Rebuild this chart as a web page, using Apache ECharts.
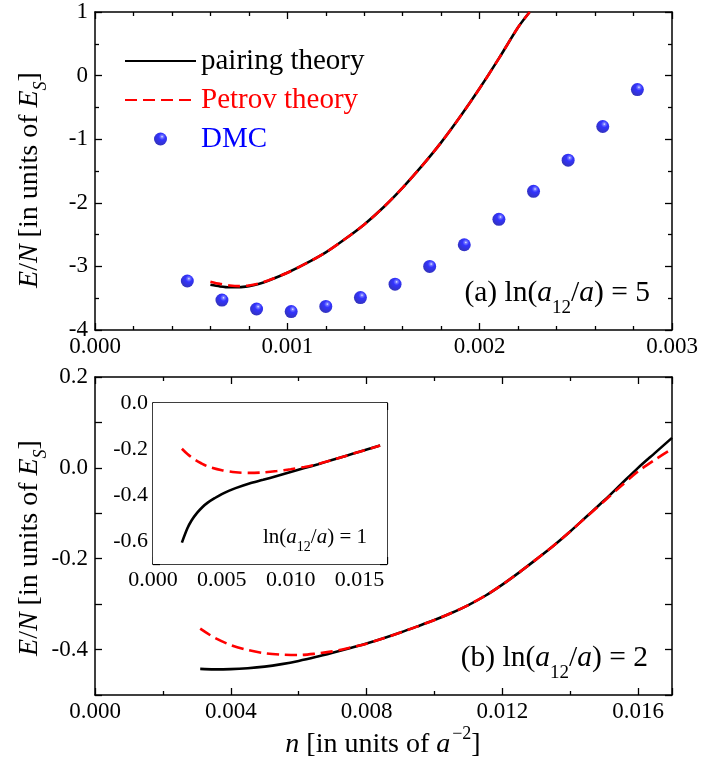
<!DOCTYPE html>
<html>
<head>
<meta charset="utf-8">
<script src="https://cdn.jsdelivr.net/npm/echarts@6/dist/echarts.min.js"></script>
<style>
  html, body { margin: 0; padding: 0; background: #fff; }
  #chart { width: 721px; height: 771px; }
</style>
</head>
<body>
<div id="chart"></div>
<script>
// ---- Panel (a): ln(a12/a) = 5 ----
const nA        = [0.00060, 0.00065, 0.00070, 0.00075, 0.00080, 0.00085, 0.00090, 0.00100, 0.00110, 0.00120, 0.00130, 0.00140, 0.00150, 0.00160, 0.00170, 0.00180, 0.00190, 0.00200, 0.00210, 0.00220, 0.00226];
const pairingA  = [-3.29, -3.315, -3.328, -3.328, -3.31, -3.275, -3.225, -3.10, -2.95, -2.78, -2.57, -2.34, -2.07, -1.76, -1.42, -1.05, -0.64, -0.20, 0.27, 0.76, 1.00];
const petrovA   = [-3.24, -3.275, -3.30, -3.31, -3.30, -3.27, -3.222, -3.10, -2.95, -2.78, -2.57, -2.34, -2.07, -1.76, -1.42, -1.05, -0.64, -0.20, 0.27, 0.76, 1.00];
const nDMC      = [0.00048, 0.00066, 0.00084, 0.00102, 0.00120, 0.00138, 0.00156, 0.00174, 0.00192, 0.00210, 0.00228, 0.00246, 0.00264, 0.00282];
const eDMC      = [-3.23, -3.53, -3.67, -3.71, -3.63, -3.49, -3.28, -3.00, -2.66, -2.26, -1.82, -1.33, -0.80, -0.22];

// ---- Panel (b): ln(a12/a) = 2 ----
const nB        = [0.0031, 0.0035, 0.0040, 0.0045, 0.0050, 0.0055, 0.0060, 0.0065, 0.0070, 0.0075, 0.0080, 0.0085, 0.0090, 0.0095, 0.0100, 0.0105, 0.0110, 0.0115, 0.0120, 0.0125, 0.0130, 0.0135, 0.0140, 0.0145, 0.0150, 0.0155, 0.0160, 0.0165, 0.0170];
const pairingB  = [-0.4425, -0.4435, -0.4430, -0.4410, -0.4375, -0.4320, -0.4250, -0.4165, -0.4070, -0.3970, -0.3865, -0.3750, -0.3625, -0.3490, -0.3350, -0.3195, -0.3020, -0.2815, -0.2570, -0.2300, -0.2015, -0.1720, -0.1400, -0.1060, -0.0720, -0.0360, 0.0000, 0.0330, 0.0660];
const petrovB   = [-0.354, -0.373, -0.390, -0.401, -0.408, -0.411, -0.412, -0.409, -0.404, -0.396, -0.387, -0.375, -0.3625, -0.3490, -0.3350, -0.3195, -0.3020, -0.2815, -0.2570, -0.2300, -0.2015, -0.1720, -0.1400, -0.1065, -0.0735, -0.0400, -0.0080, 0.0180, 0.0420];

// ---- Inset: ln(a12/a) = 1 ----
const nC1       = [0.0021, 0.0025, 0.0028, 0.0032, 0.0036, 0.0040, 0.0045, 0.0050, 0.0055, 0.0060, 0.0070, 0.0080, 0.0090, 0.0100, 0.0110, 0.0120, 0.0130, 0.0140, 0.0150, 0.0165];
const pairingC  = [-0.607, -0.545, -0.511, -0.478, -0.452, -0.432, -0.413, -0.396, -0.382, -0.370, -0.350, -0.334, -0.317, -0.300, -0.283, -0.266, -0.248, -0.230, -0.212, -0.185];
const nC2       = [0.0021, 0.0025, 0.0030, 0.0035, 0.0040, 0.0050, 0.0060, 0.0070, 0.0080, 0.0090, 0.0100, 0.0110, 0.0120, 0.0130, 0.0140, 0.0150, 0.0165];
const petrovC   = [-0.199, -0.222, -0.245, -0.262, -0.276, -0.292, -0.301, -0.304, -0.302, -0.296, -0.288, -0.278, -0.265, -0.248, -0.230, -0.212, -0.185];

const zip = (xs, ys) => xs.map((x, i) => [x, ys[i]]);

const SERIF = '"Liberation Serif", "Times New Roman", serif';
const BLACK = '#000';
const RED = '#ff0000';
const BLUE = '#0000ff';

const isMultiple = (v, step) => Math.abs(v / step - Math.round(v / step)) < 1e-6;

function axisBase(extra) {
  return Object.assign({
    type: 'value',
    axisLine: { show: true, onZero: false, lineStyle: { color: BLACK, width: 1.5 } },
    axisTick: { show: true, inside: true, length: 7, lineStyle: { color: BLACK, width: 1.3 } },
    minorTick: { show: false },
    splitLine: { show: false },
    minorSplitLine: { show: false },
    axisLabel: { show: false }
  }, extra);
}

function labelStyle(size, margin, formatter) {
  return { show: true, color: BLACK, fontFamily: SERIF, fontSize: size, margin: margin, formatter: formatter, showMinLabel: true, showMaxLabel: true };
}

function minor(split) {
  return split ? { show: true, splitNumber: split, length: 4, lineStyle: { color: BLACK, width: 1.3 } } : { show: false };
}

// each grid gets a labelled axis plus an unlabelled mirror on the opposite side
function xPair(grid, min, max, interval, minorSplit, fmt, size, margin) {
  const common = { gridIndex: grid, min: min, max: max, interval: interval, minorTick: minor(minorSplit) };
  return [
    axisBase(Object.assign({}, common, { position: 'bottom', axisLabel: labelStyle(size, margin, fmt) })),
    axisBase(Object.assign({}, common, { position: 'top' }))
  ];
}
function yPair(grid, min, max, interval, minorSplit, fmt, size, margin) {
  const common = { gridIndex: grid, min: min, max: max, interval: interval, minorTick: minor(minorSplit) };
  return [
    axisBase(Object.assign({}, common, { position: 'left', axisLabel: labelStyle(size, margin, fmt) })),
    axisBase(Object.assign({}, common, { position: 'right' }))
  ];
}

const fmtA_x = v => v.toFixed(3);
const fmtA_y = v => String(Math.round(v));
const fmtB_x = v => isMultiple(v, 0.004) ? v.toFixed(3) : '';
const fmtB_y = v => isMultiple(v, 0.2) ? (Math.abs(v) < 1e-9 ? '0.0' : v.toFixed(1)) : '';
const fmtC_x = v => isMultiple(v, 0.005) ? v.toFixed(3) : '';
const fmtC_y = v => isMultiple(v, 0.2) ? (Math.abs(v) < 1e-9 ? '0.0' : v.toFixed(1)) : '';

const xAxes = [].concat(
  xPair(0, 0, 0.003, 0.001, 5, fmtA_x, 23, 5),
  xPair(1, 0, 0.017, 0.004, 2, fmtB_x, 23, 5),
  xPair(2, 0, 0.017, 0.005, 2, fmtC_x, 22, 5)
);
const yAxes = [].concat(
  yPair(0, -4, 1, 1, 2, fmtA_y, 23, 7),
  yPair(1, -0.5, 0.2, 0.1, 0, fmtB_y, 23, 7),
  yPair(2, -0.7, 0, 0.1, 0, fmtC_y, 22, 5)
);

const solid = { color: BLACK, width: 2.6, type: 'solid' };
const dashed = { color: RED, width: 2.6, type: [12, 6] };

function line(name, xi, yi, data, style, z) {
  return { name: name, type: 'line', xAxisIndex: xi, yAxisIndex: yi, data: data,
    symbol: 'none', smooth: 0.3, lineStyle: style, itemStyle: { color: style.color },
    z: z, silent: true, animation: false };
}

// shaded blue ball for the DMC markers
const ball = {
  type: 'radial', x: 0.62, y: 0.32, r: 0.72,
  colorStops: [
    { offset: 0, color: '#eef0ff' },
    { offset: 0.12, color: '#5a60ff' },
    { offset: 0.35, color: '#0000ff' },
    { offset: 1, color: '#0000a8' }
  ]
};

// rich text styles shared by the labels
const richBase = (size) => ({
  r: { fontFamily: SERIF, fontSize: size, fill: BLACK, lineHeight: size + 4 },
  i: { fontFamily: SERIF, fontSize: size, fontStyle: 'italic', fill: BLACK, lineHeight: size + 4 },
  sub: { fontFamily: SERIF, fontSize: Math.round(size * 0.66), fill: BLACK, padding: [Math.round(size * 1.0), 0, 0, 0] },
  subi: { fontFamily: SERIF, fontSize: Math.round(size * 0.66), fontStyle: 'italic', fill: BLACK, padding: [Math.round(size * 0.8), 0, 0, 0] },
  sup: { fontFamily: SERIF, fontSize: Math.round(size * 0.66), fill: BLACK, padding: [0, 0, Math.round(size * 0.8), 2] }
});

function textEl(x, y, text, size, align, rotation) {
  return { type: 'text', x: x, y: y, rotation: rotation || 0, z: 100, silent: true,
    style: { text: text, align: align, verticalAlign: 'middle', rich: richBase(size), fontFamily: SERIF, fontSize: size, fill: BLACK } };
}

const chart = echarts.init(document.getElementById('chart'), null, { renderer: 'canvas' });

chart.setOption({
  backgroundColor: '#fff',
  animation: false,
  grid: [
    { left: 95, top: 12, width: 577, height: 318, show: false },
    { left: 95, top: 377, width: 577, height: 318, show: false },
    { left: 153, top: 403, width: 234, height: 161, show: true, backgroundColor: '#fff', borderWidth: 0, z: 3 }
  ],
  xAxis: xAxes,
  yAxis: yAxes,
  legend: {
    left: 119, top: 41, orient: 'vertical', itemWidth: 71, itemHeight: 13, itemGap: 9,
    selectedMode: false,
    textStyle: { fontFamily: SERIF, fontSize: 29, lineHeight: 30 },
    data: [
      { name: 'pairing theory', itemStyle: { opacity: 0 }, textStyle: { color: BLACK } },
      { name: 'Petrov theory', itemStyle: { opacity: 0 }, textStyle: { color: RED } },
      { name: 'DMC', textStyle: { color: BLUE } }
    ]
  },
  series: [
    line('pairing theory', 0, 0, zip(nA, pairingA), solid, 3),
    line('Petrov theory', 0, 0, zip(nA, petrovA), dashed, 4),
    { name: 'DMC', type: 'scatter', xAxisIndex: 0, yAxisIndex: 0, data: zip(nDMC, eDMC),
      symbol: 'circle', symbolSize: 13, itemStyle: { color: ball }, z: 5, silent: true },
    line('pairing theory', 2, 2, zip(nB, pairingB), solid, 3),
    line('Petrov theory', 2, 2, zip(nB, petrovB), dashed, 4),
    line('pairing theory', 4, 4, zip(nC1, pairingC), solid, 6),
    line('Petrov theory', 4, 4, zip(nC2, petrovC), dashed, 7)
  ],
  graphic: [
    textEl(30, 180, '{i|E}{r|/}{i|N}{r| [in units of }{i|E}{subi|S}{r|]}', 28, 'center', Math.PI / 2),
    textEl(30, 548, '{i|E}{r|/}{i|N}{r| [in units of }{i|E}{subi|S}{r|]}', 28, 'center', Math.PI / 2),
    textEl(383, 745, '{i|n}{r| [in units of }{i|a}{sup|\u22122}{r|]}', 28, 'center'),
    textEl(650, 293, '{r|(a) ln(}{i|a}{sub|12}{r|/}{i|a}{r|) = 5}', 29.5, 'right'),
    textEl(648, 658, '{r|(b) ln(}{i|a}{sub|12}{r|/}{i|a}{r|) = 2}', 29.5, 'right'),
    textEl(367, 537, '{r|ln(}{i|a}{sub|12}{r|/}{i|a}{r|) = 1}', 21, 'right')
  ]
});
</script>
</body>
</html>
